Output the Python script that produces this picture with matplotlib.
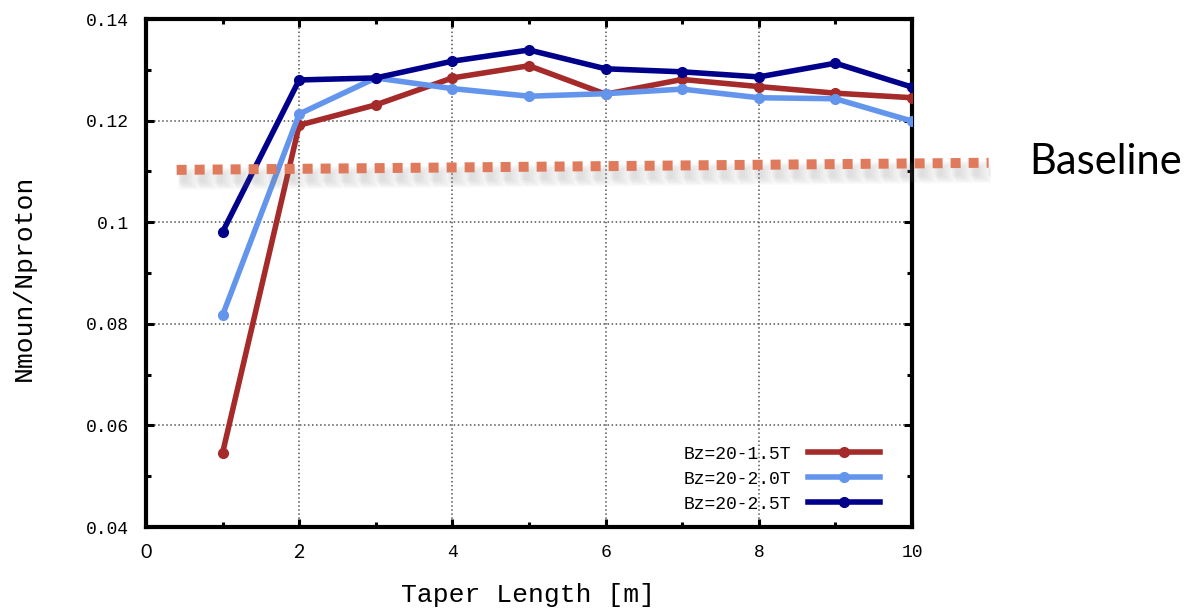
import numpy as np
import matplotlib
matplotlib.use("Agg")
import matplotlib.pyplot as plt
import matplotlib.transforms as mtransforms

# taper length [m]
taper = [1, 2, 3, 4, 5, 6, 7, 8, 9, 10]
# Nmuon/Nproton for the three field configurations
bz15 = [0.0546, 0.1191, 0.1231, 0.1284, 0.1308, 0.1252, 0.1281, 0.1267, 0.1254, 0.1245]
bz20 = [0.0817, 0.1213, 0.1284, 0.1263, 0.1248, 0.1253, 0.1262, 0.1245, 0.1243, 0.1199]
bz25 = [0.0981, 0.1280, 0.1284, 0.1317, 0.1339, 0.1302, 0.1296, 0.1286, 0.1313, 0.1266]
labels = ["Bz=20-1.5T", "Bz=20-2.0T", "Bz=20-2.5T"]
colors = ["#A52A2A", "#6495ED", "#00008B"]

# baseline overlay (slide annotation)
base_x = [0.4, 11.0]
base_y = [0.1103, 0.1117]

xticks = [0, 2, 4, 6, 8, 10]
yticks = [0.04, 0.06, 0.08, 0.10, 0.12, 0.14]
yticklabels = ["0.04", "0.06", "0.08", "0.1", "0.12", "0.14"]

mono = "Liberation Mono"

fig = plt.figure(figsize=(11.9, 6.08), dpi=100)
ax = fig.add_axes([146/1190, 1 - 527/608, 766/1190, 508/608])

for ys, c, lab in zip([bz15, bz20, bz25], colors, labels):
	ax.plot(taper, ys, color=c, lw=4, marker="o", ms=7, mec=c, label=lab, zorder=3)

ax.set_xlim(0, 10)
ax.set_ylim(0.04, 0.14)
ax.set_xticks(xticks)
ax.set_xticks(range(1, 10, 2), minor=True)
ax.set_yticks(yticks)
ax.set_yticks(np.arange(0.05, 0.14, 0.02), minor=True)
ax.set_yticklabels(yticklabels, fontfamily=mono, fontsize=13)
ax.set_xticklabels([str(t) for t in xticks], fontfamily=mono, fontsize=13)
# the first two x labels were retyped in the slide with a sans font
for t in ax.get_xticklabels()[:2]:
	t.set_fontfamily("Lato")
	t.set_fontsize(14)

ax.tick_params(which="both", direction="in", top=True, right=True, width=2.2, color="black")
ax.tick_params(which="major", length=6, pad=12)
ax.tick_params(which="minor", length=3.5)
ax.grid(True, which="major", linestyle=":", color="#555555", lw=1.1)
for s in ax.spines.values():
	s.set_linewidth(3)

# legend on the right, text before line
leg = ax.legend(loc="lower right", bbox_to_anchor=(0.958, 0.028), frameon=False,
	markerfirst=False, numpoints=1, handlelength=4.0, handletextpad=0.9,
	labelspacing=0.45, borderpad=0, borderaxespad=0,
	prop={"family": mono, "size": 13})

# soft shadow under the baseline, same 18 px period as the squares
period = 12.96
for w in [6, 8, 10, 12, 14, 16]:
	on = 7.2 + (w - 7.2) * 0.6
	tr = mtransforms.offset_copy(ax.transData, fig=fig, x=2, y=-9, units="dots")
	ax.plot(base_x, base_y, color="#808080", lw=w, alpha=0.045,
		linestyle=(-(on - 7.2) / 2 / w, (on / w, (period - on) / w)),
		dash_capstyle="butt", transform=tr, clip_on=False, zorder=4)
ax.plot(base_x, base_y, color="#E07A5C", lw=7.2, linestyle=(0, (1, 0.8)),
	dash_capstyle="butt", clip_on=False, zorder=5)

fig.text(1106/1190, 1 - 162/608, "Baseline", family="Lato", fontsize=30, ha="center", va="center")
fig.text(24/1190, 1 - 278/608, "Nmoun/Nproton", family=mono, fontsize=19, rotation=90, ha="center", va="center")
fig.text(528/1190, 1 - 595/608, "Taper Length [m]", family=mono, fontsize=19, ha="center", va="center")

plt.savefig("out.png", dpi=100)
